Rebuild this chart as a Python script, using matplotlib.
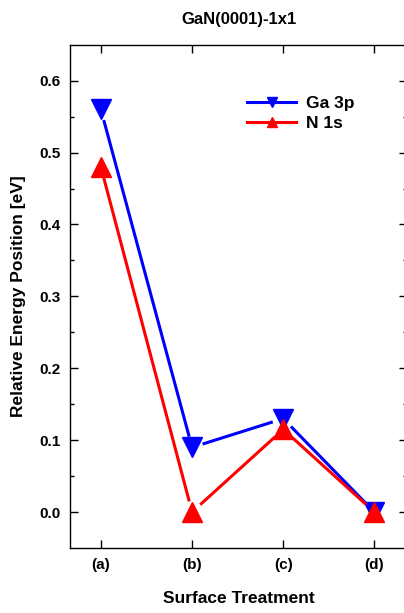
import numpy as np
import matplotlib
matplotlib.use("Agg")
import matplotlib.pyplot as plt
from matplotlib.lines import Line2D

plt.rcParams['font.family'] = ['Liberation Sans', 'DejaVu Sans']
plt.rcParams['font.weight'] = 'bold'

treatments = ["(a)", "(b)", "(c)", "(d)"]
ga3p = [0.56, 0.09, 0.13, 0.0]
n1s = [0.48, 0.0, 0.115, 0.0]

BLUE = "#0000ff"
RED = "#ff0000"


def gapped_line(ax, xs, ys, color, gap=11):
    # Origin-style: line segments stop short of the symbols
    pts = ax.transData.transform(np.column_stack([xs, ys]))
    inv = ax.transData.inverted()
    for p0, p1 in zip(pts[:-1], pts[1:]):
        d = p1 - p0
        u = d / np.hypot(*d)
        seg = inv.transform([p0 + u * gap, p1 - u * gap])
        ax.plot(seg[:, 0], seg[:, 1], color=color, lw=2.2, solid_capstyle='butt')


fig = plt.figure(figsize=(4.04, 6.13), dpi=100)
ax = fig.add_axes([0.173, 0.106, 0.835, 0.821])
ax.set_xlim(-0.34, 3.36)
ax.set_ylim(-0.05, 0.65)

x = np.arange(len(treatments))

gapped_line(ax, x, ga3p, BLUE)
ax.plot(x, ga3p, ls='none', marker='v', ms=14, color=BLUE)
gapped_line(ax, x, n1s, RED)
ax.plot(x, n1s, ls='none', marker='^', ms=14, color=RED)

ax.set_xticks(x)
ax.set_xticklabels(treatments)
ax.set_yticks(np.arange(0, 0.61, 0.1))
ax.set_yticks(np.arange(0.05, 0.61, 0.1), minor=True)
ax.set_yticklabels([f"{v:.1f}" for v in np.arange(0, 0.61, 0.1)])
ax.tick_params(which='both', direction='in', top=True, right=True,
               labelsize=11, width=1, pad=7)
ax.tick_params(which='major', length=6)
ax.tick_params(which='minor', length=3)
for s in ax.spines.values():
    s.set_linewidth(1)

ax.set_xlabel("Surface Treatment", fontsize=12.5, fontweight='bold', labelpad=14)
ax.set_ylabel("Relative Energy Position [eV]", fontsize=12.5, fontweight='bold', labelpad=9)
ax.set_title("GaN(0001)-1x1", fontsize=12, fontweight='bold', pad=15)

handles = [
    Line2D([], [], color=BLUE, lw=2.2, marker='v', ms=7),
    Line2D([], [], color=RED, lw=2.2, marker='^', ms=7),
]
ax.legend(handles, ["Ga 3p", "N 1s"], loc='upper left', bbox_to_anchor=(0.48, 0.93),
          frameon=False, fontsize=12.5, handlelength=2.8, handletextpad=0.6,
          labelspacing=0.3)

fig.savefig("out.png", dpi=100)
